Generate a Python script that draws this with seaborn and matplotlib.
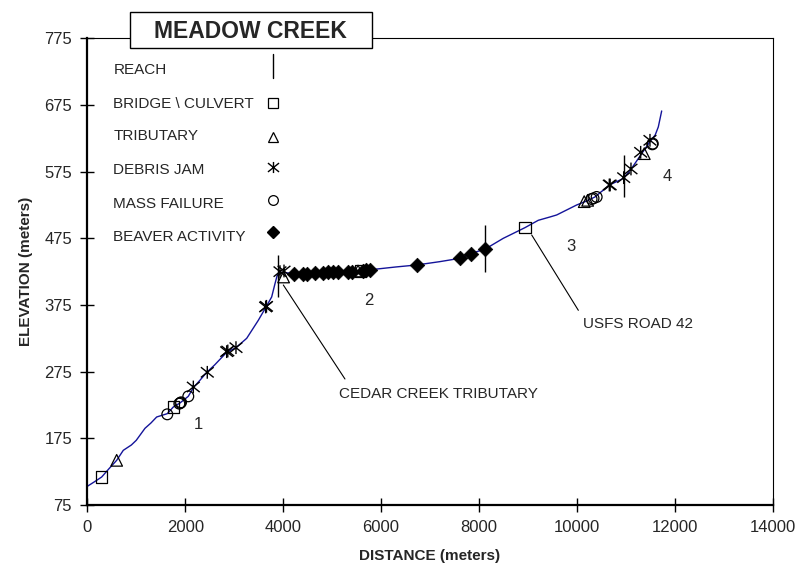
import numpy as np
import pandas as pd
import seaborn as sns
import matplotlib.pyplot as plt
from matplotlib.path import Path
from matplotlib.patches import Rectangle

# stream profile (distance in m, elevation in m)
profile_dist = [0, 150, 294, 450, 600, 735, 900, 1000, 1178, 1300, 1417, 1634, 1757, 1893,
                2063, 2166, 2300, 2440, 2600, 2847, 3037, 3256, 3493, 3643, 3766, 3834,
                3881, 3950, 4100, 4500, 5000, 5500, 5800, 6300, 6727, 7200, 7612, 7830,
                8130, 8497, 8940, 9211, 9450, 9587, 9996, 10200, 10369, 10500, 10609,
                10662, 10812, 10956, 11119, 11323, 11493, 11600, 11663, 11732]
profile_elev = [103, 110, 117, 130, 142, 157, 165, 172, 190, 198, 207, 212, 222, 228,
                238, 251, 262, 274, 285, 304, 311, 325, 352, 371, 387, 407,
                420, 424, 423, 423, 424, 426, 428, 432, 435, 440, 445, 452,
                459, 475, 491, 502, 507, 510, 525, 531, 537, 545, 551,
                555, 560, 565, 580, 602, 620, 630, 642, 666]

# channel features
bridge_x = [294, 1757, 5580, 8940]
bridge_y = [117, 222, 426, 491]
trib_x = [600, 4010, 5530, 10150, 10220, 11377]
trib_y = [142, 417, 426, 530, 532, 602]
debris_x = [2166, 2451, 2847, 2870, 3037, 3643, 3660, 3936, 4018, 10662, 10680,
            10956, 11105, 11303, 11493]
debris_y = [252, 274, 305, 306, 311, 372, 373, 425, 426, 555, 555, 566, 579, 604, 622]
mass_x = [1634, 1880, 1900, 1915, 2063, 10300, 10340, 10404, 11540, 11550]
mass_y = [211, 227, 228, 229, 238, 534, 535, 537, 616, 617]
beaver_x = [4222, 4412, 4481, 4651, 4820, 4923, 5025, 5127, 5331, 5400, 5637, 5700,
            5774, 6727, 7612, 7830, 8123]
beaver_y = [421, 422, 422, 423, 423, 424, 424, 424, 425, 425, 426, 427, 427, 435,
            445, 452, 459]

# reach breaks
reach_x = [3902, 8130, 10956]
reach_lo = [387, 425, 537]
reach_hi = [450, 495, 600]
reach_names = ['1', '2', '3', '4']
reach_lab_x = [2268, 5740, 9873, 11846]
reach_lab_y = [195, 381, 463, 567]

sns.set_style('ticks')
plt.rcParams['font.family'] = ['Liberation Sans', 'DejaVu Sans']

fig = plt.figure(figsize=(8.06, 5.82), dpi=100)
ax = fig.add_axes([0.1083, 0.1323, 0.8504, 0.8019])

prof = pd.DataFrame({'dist': profile_dist, 'elev': profile_elev})
sns.lineplot(data=prof, x='dist', y='elev', sort=False, estimator=None,
             color='#14149a', lw=1.0, ax=ax, zorder=2)

# X with a vertical bar, like the spreadsheet asterisk
asterisk = Path([(-1, -0.8), (1, 0.8), (-1, 0.8), (1, -0.8), (0, -1), (0, 1)],
                [Path.MOVETO, Path.LINETO, Path.MOVETO, Path.LINETO,
                 Path.MOVETO, Path.LINETO])

sns.scatterplot(x=bridge_x, y=bridge_y, marker='s', s=65, facecolor='none',
                edgecolor='black', linewidth=0.9, ax=ax, zorder=3)
sns.scatterplot(x=trib_x, y=trib_y, marker='^', s=70, facecolor='none',
                edgecolor='black', linewidth=0.9, ax=ax, zorder=3)
sns.scatterplot(x=debris_x, y=debris_y, marker=asterisk, s=85, facecolor='none',
                edgecolor='black', linewidth=1.0, ax=ax, zorder=3)
sns.scatterplot(x=mass_x, y=mass_y, marker='o', s=60, facecolor='none',
                edgecolor='black', linewidth=0.9, ax=ax, zorder=3)
sns.scatterplot(x=beaver_x, y=beaver_y, marker='D', s=55, color='black',
                edgecolor='black', linewidth=0.5, ax=ax, zorder=3)

ax.vlines(reach_x, reach_lo, reach_hi, color='black', lw=1.0, zorder=4)

for name, rx, ry in zip(reach_names, reach_lab_x, reach_lab_y):
    ax.text(rx, ry, name, fontsize=12, ha='center', va='center')

# callouts
ax.plot([4004, 5263], [405, 264], color='black', lw=0.8)
ax.text(5146, 242, 'CEDAR CREEK TRIBUTARY', fontsize=11, ha='left', va='center')
ax.plot([9077, 10030], [480, 367], color='black', lw=0.8)
ax.text(10133, 347, 'USFS ROAD 42', fontsize=11, ha='left', va='center')

# legend drawn inside the plot
leg_labels = ['REACH', 'BRIDGE \\ CULVERT', 'TRIBUTARY', 'DEBRIS JAM',
              'MASS FAILURE', 'BEAVER ACTIVITY']
leg_text_y = [0.933, 0.859, 0.790, 0.717, 0.645, 0.575]
for lab, ty in zip(leg_labels, leg_text_y):
    ax.text(0.038, ty, lab, fontsize=11, ha='left', va='center', transform=ax.transAxes)
mx = 0.271
ax.plot([mx, mx], [0.914, 0.967], color='black', lw=1.0, transform=ax.transAxes)
ax.plot(mx, 0.861, marker='s', ms=7, mfc='none', mec='black', mew=0.9,
        transform=ax.transAxes)
ax.plot(mx, 0.789, marker='^', ms=7.5, mfc='none', mec='black', mew=0.9,
        transform=ax.transAxes)
ax.plot(mx, 0.724, marker=asterisk, ms=8, mfc='none', mec='black', mew=1.0,
        transform=ax.transAxes)
ax.plot(mx, 0.653, marker='o', ms=7, mfc='none', mec='black', mew=0.9,
        transform=ax.transAxes)
ax.plot(mx, 0.585, marker='D', ms=6.5, mfc='black', mec='black',
        transform=ax.transAxes)

ax.set_xlim(0, 14000)
ax.set_ylim(75, 775)
ax.set_xticks(np.arange(0, 14001, 2000))
ax.set_yticks(np.arange(75, 776, 100))
ax.tick_params(direction='inout', length=10, width=1, labelsize=12, pad=6, color='black')
for side in ['left', 'bottom']:
    ax.spines[side].set_linewidth(1.6)
for side in ['top', 'right']:
    ax.spines[side].set_visible(True)
    ax.spines[side].set_linewidth(0.8)
for sp in ax.spines.values():
    sp.set_color('black')

ax.set_xlabel('DISTANCE (meters)', fontsize=11, fontweight='bold', labelpad=10)
ax.set_ylabel('ELEVATION (meters)', fontsize=11, fontweight='bold', labelpad=8)

# title box overlapping the top frame
fig.add_artist(Rectangle((0.161, 0.917), 0.3005, 0.063, transform=fig.transFigure,
                         facecolor='white', edgecolor='black', lw=1.0, zorder=5))
fig.text(0.311, 0.946, 'MEADOW CREEK', fontsize=16.5, fontweight='bold',
         ha='center', va='center', zorder=6)

fig.savefig('out.png', dpi=100)
